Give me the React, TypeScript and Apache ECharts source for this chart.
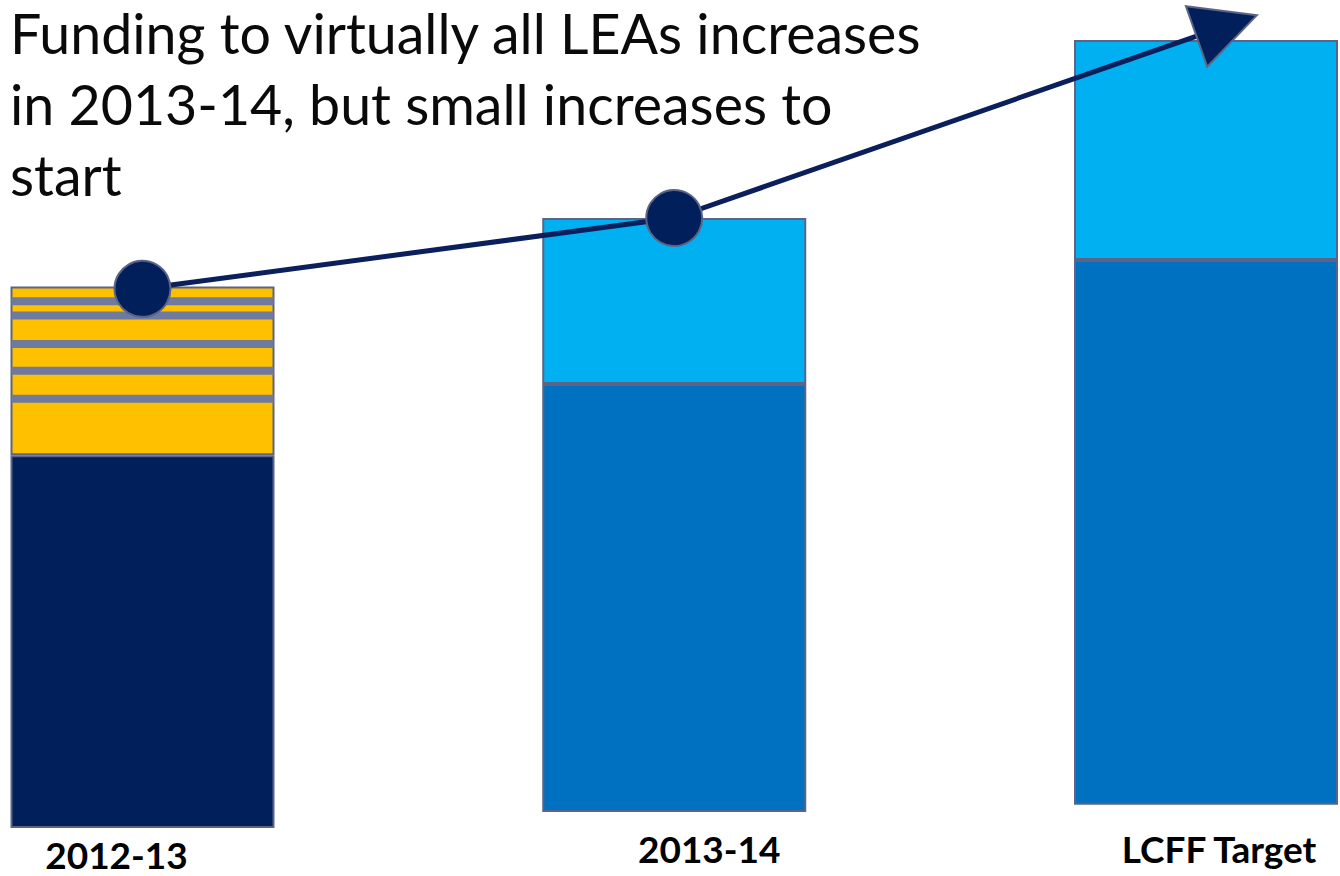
import React, { useEffect, useRef } from "react";
import * as echarts from "echarts";

const categories = ["2012-13", "2013-14", "LCFF Target"];
const offsetValues = [0, 2, 2.9];
const baseValues = [46.6, 53.5, 68.1];
const increaseValues = [21.1, 20.75, 27.5];
const stripeValues = [53.65, 57.16, 60.5, 64.06, 65.84];
const trendValues = [67.4, 76.25, 99.4];
const titleLines = [
  "Funding to virtually all LEAs increases",
  "in 2013-14, but small increases to",
  "start",
];

const baseColors = ["#001f5b", "#0070c0", "#0070c0"];
const increaseColors = ["#ffc000", "#00b0f0", "#00b0f0"];
const borderColor = "#5b6486";
const navy = "#0a1f5c";

export default function App() {
  const ref = useRef<HTMLDivElement>(null);
  useEffect(() => {
    if (!ref.current) return;
    const chart = echarts.init(ref.current, null, { renderer: "svg" });
    const barW = 264;
    const labelPads = [
      [6, 52, 0, 0],
      [0, 0, 0, 70],
      [0, 0, 0, 26],
    ];
    chart.setOption({
      animation: false,
      backgroundColor: "#ffffff",
      title: {
        text: titleLines.join("\n"),
        left: 5,
        top: -8,
        textStyle: {
          fontFamily: "Lato",
          fontWeight: "normal",
          fontSize: 55.5,
          lineHeight: 71,
          color: "#0a0a0a",
        },
      },
      grid: { left: 142.5, right: 1340 - 1206, top: 28, bottom: 48 },
      xAxis: {
        type: "category",
        boundaryGap: false,
        data: categories.map((c, i) => ({
          value: c,
          textStyle: { padding: labelPads[i] },
        })),
        axisLine: { show: false },
        axisTick: { show: false },
        axisLabel: {
          margin: 2,
          fontFamily: "Lato",
          fontWeight: "bold",
          fontSize: 37,
          color: "#000",
        },
      },
      yAxis: { type: "value", min: 0, max: 100, show: false },
      series: [
        {
          name: "offset",
          type: "bar",
          stack: "a",
          barWidth: barW,
          clip: false,
          silent: true,
          itemStyle: { color: "rgba(0,0,0,0)", borderWidth: 0 },
          data: offsetValues,
        },
        {
          name: "Base",
          type: "bar",
          stack: "a",
          barWidth: barW,
          clip: false,
          data: baseValues.map((v, i) => ({
            value: v,
            itemStyle: { color: baseColors[i] },
          })),
          itemStyle: { borderColor, borderWidth: 2 },
        },
        {
          name: "Increase",
          type: "bar",
          stack: "a",
          barWidth: barW,
          clip: false,
          data: increaseValues.map((v, i) => ({
            value: v,
            itemStyle: { color: increaseColors[i] },
          })),
          itemStyle: { borderColor, borderWidth: 2 },
        },
        {
          name: "stripes",
          type: "custom",
          z: 3,
          data: stripeValues.map((v) => [0, v]),
          renderItem: (params: any, api: any) => {
            const pt = api.coord([api.value(0), api.value(1)]);
            const h = api.size([0, 1])[1];
            return {
              type: "rect",
              shape: { x: pt[0] - barW / 2 + 1, y: pt[1] - h / 2, width: barW - 2, height: h },
              style: { fill: "#6e7a9e" },
            };
          },
        },
        {
          name: "Trend",
          type: "line",
          z: 5,
          lineStyle: { color: navy, width: 5 },
          itemStyle: { color: "#001f5b", borderColor, borderWidth: 2 },
          data: trendValues.map((v, i) =>
            i < trendValues.length - 1
              ? { value: v, symbol: "circle", symbolSize: 56 }
              : {
                  value: v,
                  symbol: "triangle",
                  symbolSize: [64, 64],
                  symbolRotate: -70.6,
                  symbolOffset: [20.75, -7],
                }
          ),
        },
      ],
    });
    return () => chart.dispose();
  }, []);
  return (
    <div
      ref={ref}
      style={{ position: "fixed", left: 0, top: 0, width: 1340, height: 876 }}
    />
  );
}
